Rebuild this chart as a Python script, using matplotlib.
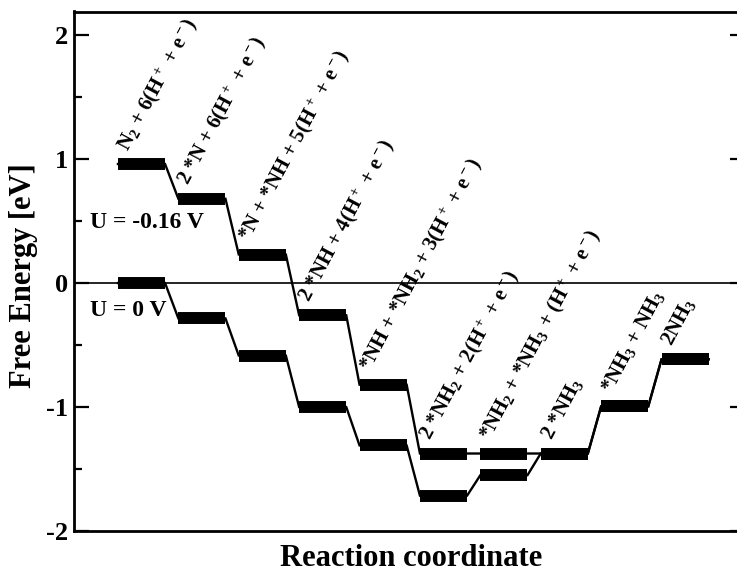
import matplotlib
matplotlib.use("Agg")
import matplotlib.pyplot as plt
import numpy as np

# ---- data ----
steps = list(range(10))
upper_energy = [0.96, 0.68, 0.23, -0.26, -0.82, -1.375, -1.375, -1.375, -0.995, -0.615]
lower_energy = [0.00, -0.285, -0.585, -1.00, -1.31, -1.715, -1.55, -1.375, -0.995, -0.615]
step_labels = [
    "N$_2$ + 6(H$^+$ + e$^-$)",
    "2 *N + 6(H$^+$ + e$^-$)",
    "*N + *NH + 5(H$^+$ + e$^-$)",
    "2 *NH + 4(H$^+$ + e$^-$)",
    "*NH + *NH$_2$ + 3(H$^+$ + e$^-$)",
    "2 *NH$_2$ + 2(H$^+$ + e$^-$)",
    "*NH$_2$ + *NH$_3$ + (H$^+$ + e$^-$)",
    "2 *NH$_3$",
    "*NH$_3$ + NH$_3$",
    "2NH$_3$",
]
yticks = [-2, -1, 0, 1, 2]
ytick_labels = ["-2", "-1", "0", "1", "2"]

# ---- style ----
plt.rcParams["font.family"] = ["Liberation Serif", "DejaVu Serif"]
plt.rcParams["font.weight"] = "bold"
plt.rcParams["mathtext.fontset"] = "custom"
plt.rcParams["mathtext.rm"] = "Liberation Serif:bold"
plt.rcParams["mathtext.it"] = "Liberation Serif:bold"
plt.rcParams["mathtext.bf"] = "Liberation Serif:bold"
plt.rcParams["mathtext.default"] = "rm"
plt.rcParams["axes.unicode_minus"] = False

W, H = 737, 572
fig = plt.figure(figsize=(W / 100, H / 100), dpi=100)
ax_l, ax_r, ax_t, ax_b = 74, 745, 11.5, 531
ax = fig.add_axes([ax_l / W, 1 - ax_b / H, (ax_r - ax_l) / W, (ax_b - ax_t) / H])

hw = 0.39  # half-width of level bars (in step units)


def path(vals):
    xs, ys = [], []
    for i, v in zip(steps, vals):
        xs += [i - hw, i + hw]
        ys += [v, v]
    return xs, ys


ax.axhline(0, color="black", lw=1.2, zorder=1)

for vals in (upper_energy, lower_energy):
    xs, ys = path(vals)
    ax.plot(xs, ys, color="black", lw=1.7, zorder=2, solid_joinstyle="miter")
    for i, v in zip(steps, vals):
        ax.plot([i - hw, i + hw], [v, v], color="black", lw=8.6,
                solid_capstyle="butt", zorder=3)

for i, (v, lab) in enumerate(zip(upper_energy, step_labels)):
    ax.annotate(lab, xy=(i, v), xytext=(-9.5, 9), textcoords="offset points",
                rotation=62, rotation_mode="anchor", ha="left", va="baseline",
                fontsize=15, fontweight="bold")

fig.text(90 / W, 1 - 222 / H, "U = -0.16 V", ha="left", va="center",
         fontsize=17, fontweight="bold")
fig.text(90 / W, 1 - 310 / H, "U = 0 V", ha="left", va="center",
         fontsize=17, fontweight="bold")

ax.set_xlim((ax_l - 141.5) / 60.4, (ax_r - 141.5) / 60.4)
ax.set_ylim(-2, 2.19)
ax.set_xticks([])
ax.set_yticks(yticks)
ax.set_yticklabels(ytick_labels, fontsize=19, fontweight="bold")
ax.set_yticks(np.arange(-1.5, 2.0, 1.0), minor=True)
ax.tick_params(axis="y", which="major", direction="in", length=10.8, width=1.6,
               right=True, pad=4)
ax.tick_params(axis="y", which="minor", direction="in", length=5.8, width=1.6,
               right=True)
for sp in ax.spines.values():
    sp.set_linewidth(2.0)

fig.text(24 / W, 1 - 276 / H, "Free Energy [eV]", rotation=90, ha="center",
         va="center", fontsize=22, fontweight="bold")
fig.text(411 / W, 1 - 558 / H, "Reaction coordinate", ha="center", va="center",
         fontsize=22, fontweight="bold")

fig.savefig("out.png", dpi=100)
